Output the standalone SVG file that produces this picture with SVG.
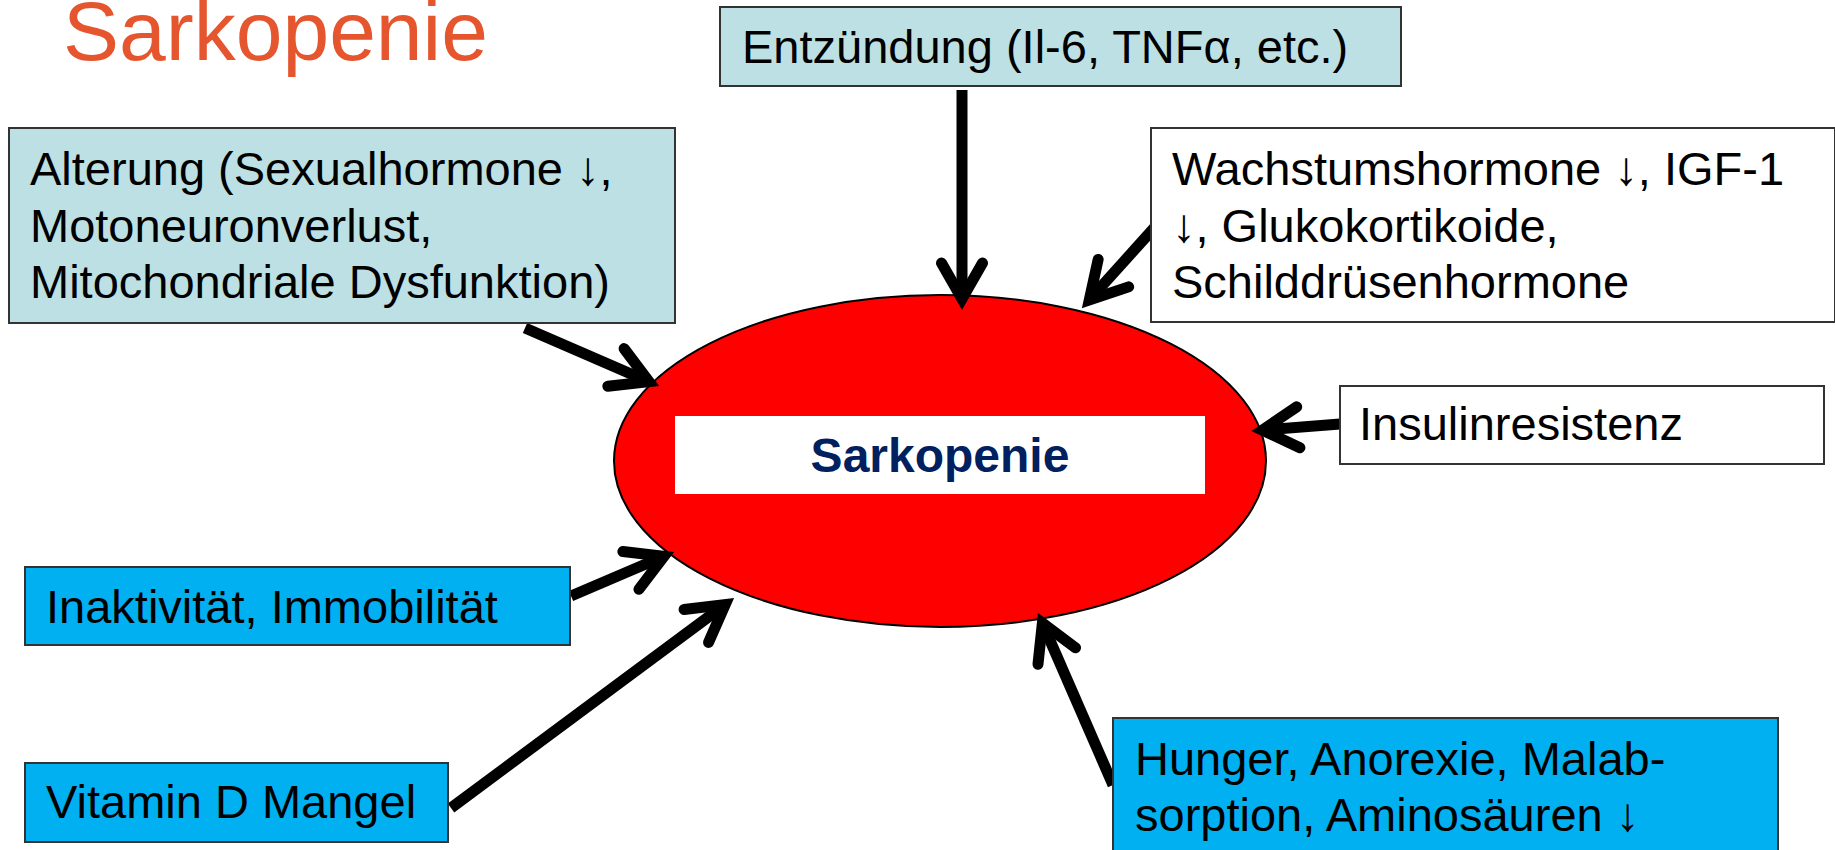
<svg xmlns="http://www.w3.org/2000/svg" width="1835" height="850" viewBox="0 0 1835 850">
<style>
.box{stroke:#333;stroke-width:2}
.teal{fill:#BCE0E3}
.blue{fill:#00B0F0}
.white{fill:#FFFFFF}
.t{font-family:"Liberation Sans",Arial,sans-serif;font-size:47px;fill:#000}
.conn{stroke:#000;stroke-width:11;fill:none;marker-end:url(#ah)}
</style>
<defs>
<marker id="ah" markerUnits="userSpaceOnUse" markerWidth="100" markerHeight="100" viewBox="-60 -50 100 100" refX="0" refY="0" orient="auto" overflow="visible">
<path d="M-36,-20.5 L0,0 L-36,20.5" fill="none" stroke="#000" stroke-width="11" stroke-linecap="round" stroke-linejoin="miter"/>
</marker>
</defs>
<rect width="1835" height="850" fill="#FFFFFF"/>
<text x="63" y="60" font-family="Liberation Sans,Arial,sans-serif" font-size="84" fill="#E5562F">Sarkopenie</text>
<g id="sarkopenie">
<ellipse cx="940" cy="461" rx="326" ry="166" fill="#FF0000" stroke="#000" stroke-width="2"/>
<rect x="675" y="416" width="530" height="78" fill="#FFFFFF"/>
<text x="940" y="471.5" text-anchor="middle" font-family="Liberation Sans,Arial,sans-serif" font-size="48" font-weight="bold" fill="#002060">Sarkopenie</text>
</g>
<g id="connectors">
<path class="conn" d="M962,90 L962,299"/>
<path class="conn" d="M1155,227 L1089.3,299.9"/>
<path class="conn" d="M525,328 L649,381.7"/>
<path class="conn" d="M1340,424 L1262.4,430.1"/>
<path class="conn" d="M571,596 L664,556.3"/>
<path class="conn" d="M451,808 L725.2,604.5"/>
<path class="conn" d="M1113,785 L1042.4,623"/>
</g>
<g id="entzuendung">
<rect class="box teal" x="720" y="7" width="681" height="79"/>
<text class="t" x="742" y="63">Entzündung (Il-6, TNFα, etc.)</text>
</g>
<g id="alterung">
<rect class="box teal" x="9" y="128" width="666" height="195"/>
<text class="t" x="30" y="185">Alterung (Sexualhormone ↓,</text>
<text class="t" x="30" y="241.5">Motoneuronverlust,</text>
<text class="t" x="30" y="298">Mitochondriale Dysfunktion)</text>
</g>
<g id="wachstum">
<rect class="box white" x="1151" y="128" width="684" height="194"/>
<text class="t" x="1172" y="185">Wachstumshormone ↓, IGF-1</text>
<text class="t" x="1172" y="241.5">↓, Glukokortikoide,</text>
<text class="t" x="1172" y="298">Schilddrüsenhormone</text>
</g>
<g id="insulin">
<rect class="box white" x="1340" y="386" width="484" height="78"/>
<text class="t" x="1359" y="440">Insulinresistenz</text>
</g>
<g id="inaktivitaet">
<rect class="box blue" x="25" y="567" width="545" height="78"/>
<text class="t" x="46" y="623">Inaktivität, Immobilität</text>
</g>
<g id="vitamind">
<rect class="box blue" x="25" y="763" width="423" height="79"/>
<text class="t" x="46" y="818">Vitamin D Mangel</text>
</g>
<g id="hunger">
<rect class="box blue" x="1113" y="718" width="665" height="140"/>
<text class="t" x="1135" y="774.5">Hunger, Anorexie, Malab-</text>
<text class="t" x="1135" y="831">sorption, Aminosäuren ↓</text>
</g>
</svg>
